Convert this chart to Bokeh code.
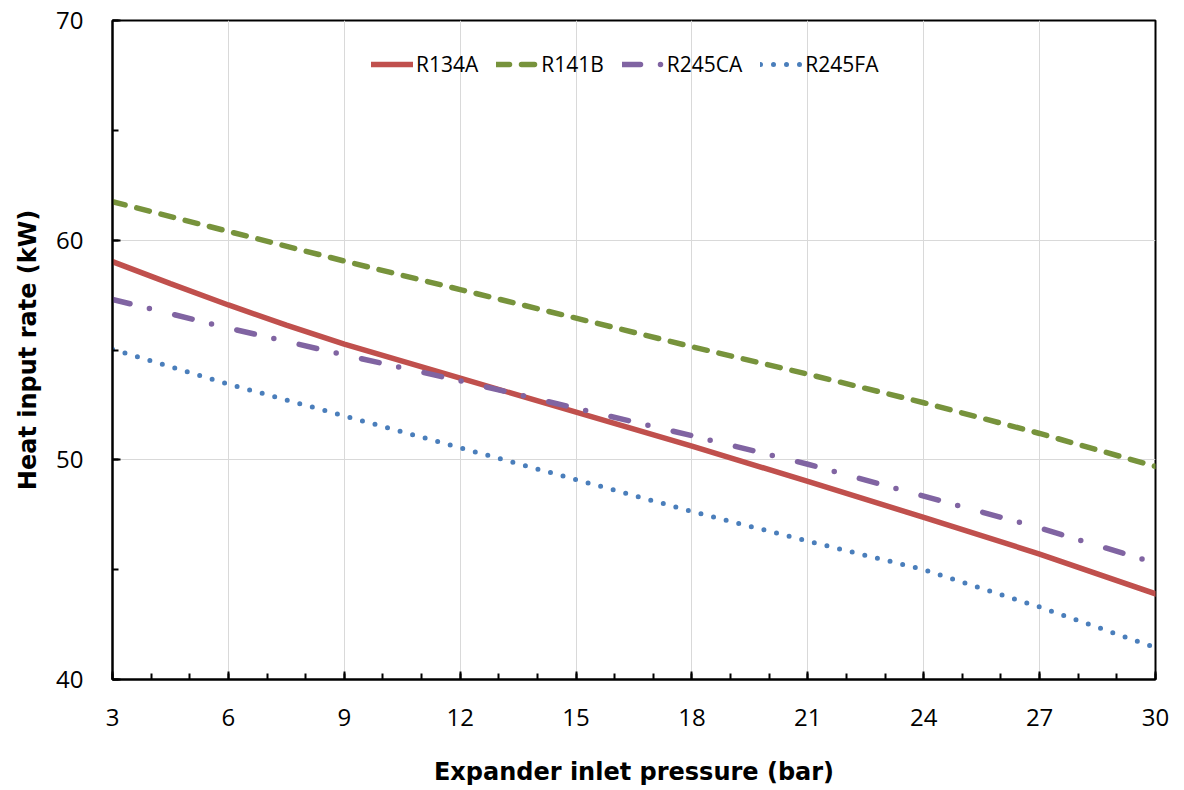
from bokeh.plotting import figure
from bokeh.models import SingleIntervalTicker, Range1d, Legend, LegendItem
from bokeh.embed import file_html
from bokeh.resources import INLINE

pressure = [3, 6, 9, 12, 15, 18, 21, 24, 27, 30]
r134a_x = [3, 4.5, 6, 7.5, 9, 12, 15, 18, 21, 24, 27, 30]
r134a = [59.02, 58.02, 57.05, 56.13, 55.27, 53.72, 52.17, 50.62, 49.02, 47.38, 45.71, 43.9]
r141b = [61.75, 60.4, 59.05, 57.75, 56.45, 55.15, 53.9, 52.6, 51.2, 49.7]
r245ca = [57.3, 56.0, 54.78, 53.6, 52.35, 51.1, 49.8, 48.35, 46.9, 45.3]
r245fa = [55.03, 53.45, 52.0, 50.55, 49.1, 47.65, 46.3, 45.0, 43.3, 41.45]

FONT = "Open Sans"

p = figure(width=1176, height=788, output_backend="svg", toolbar_location=None,
           x_range=Range1d(3, 30), y_range=Range1d(40, 70),
           min_border_left=112, min_border_right=21, min_border_top=20, min_border_bottom=104)
p.outline_line_color = "black"
p.outline_line_width = 2
p.background_fill_color = "white"
p.border_fill_color = "white"

r1 = p.line(r134a_x, r134a, line_color="#c0504d", line_width=5.5, line_cap="round")
r2 = p.line(pressure, r141b, line_color="#77933c", line_width=5.5, line_dash="13 12", line_cap="round")
r3 = p.line(pressure, r245ca, line_color="#8064a2", line_width=5.5, line_dash="18 20 0 26", line_cap="round")
r4 = p.line(pressure, r245fa, line_color="#4a7ebb", line_width=5, line_dash="0 13", line_cap="round")

for ax in (p.xaxis[0], p.yaxis[0]):
    ax.axis_line_color = "black"
    ax.axis_line_width = 2
    ax.major_tick_in = 8
    ax.major_tick_out = 0
    ax.minor_tick_in = 6
    ax.minor_tick_out = 0
    ax.major_tick_line_width = 2
    ax.minor_tick_line_width = 2
    ax.major_tick_line_color = "black"
    ax.minor_tick_line_color = "black"
    ax.major_label_text_font = FONT
    ax.major_label_text_font_size = "24px"
    ax.major_label_text_color = "black"
    ax.axis_label_text_font = "DejaVu Sans"
    ax.axis_label_text_font_size = "24px"
    ax.axis_label_text_font_style = "bold"
    ax.axis_label_text_color = "black"
    ax.major_label_standoff = 29

p.xaxis[0].ticker = SingleIntervalTicker(interval=3, num_minor_ticks=3)
p.yaxis[0].ticker = SingleIntervalTicker(interval=10, num_minor_ticks=2)
p.xaxis[0].axis_label = "Expander inlet pressure (bar)"
p.yaxis[0].axis_label = "Heat input rate (kW)"
p.xaxis[0].axis_label_standoff = 29
p.yaxis[0].axis_label_standoff = 11

p.xgrid.grid_line_color = "#d9d9d9"
p.ygrid.grid_line_color = "#d9d9d9"
p.xgrid.grid_line_width = 1
p.ygrid.grid_line_width = 1

legend = Legend(items=[LegendItem(label="R134A", renderers=[r1]),
                       LegendItem(label="R141B", renderers=[r2]),
                       LegendItem(label="R245CA", renderers=[r3]),
                       LegendItem(label="R245FA", renderers=[r4])],
                orientation="horizontal", location=(259, 601))
legend.border_line_color = None
legend.background_fill_alpha = 0
legend.padding = 0
legend.margin = 0
legend.glyph_width = 42
legend.label_standoff = 3
legend.spacing = 18
legend.label_text_font = FONT
legend.label_text_font_size = "21px"
legend.label_text_color = "black"
p.add_layout(legend, "center")

open("out.html", "w").write(file_html(p, INLINE))
